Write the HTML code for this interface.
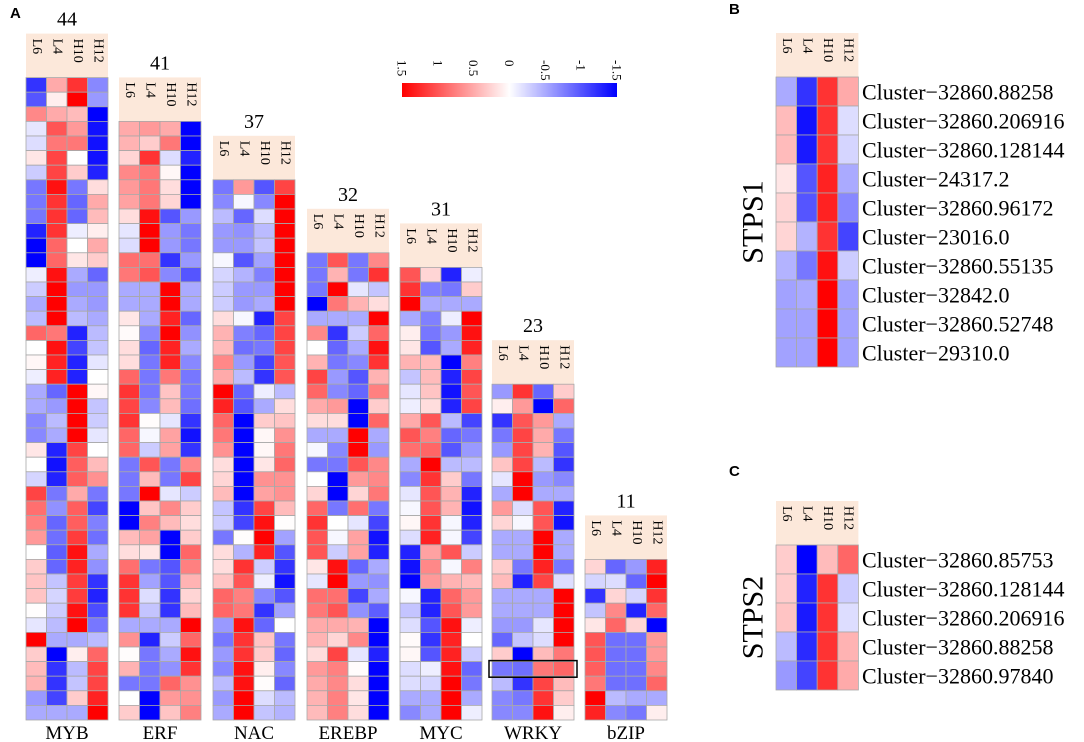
<!DOCTYPE html>
<html><head><meta charset="utf-8"><style>
html,body{margin:0;padding:0;background:#fff;}
svg{display:block;font-family:"Liberation Serif",serif;}
.pl{font-family:"Liberation Sans",sans-serif;font-weight:bold;font-size:15px;}
</style></head><body>
<svg id="chart" width="1084" height="742" viewBox="0 0 1084 742" xmlns="http://www.w3.org/2000/svg">
<text class="pl" x="10" y="18">A</text>
<text class="pl" x="729" y="14">B</text>
<text class="pl" x="729" y="476">C</text>
<defs><linearGradient id="cb" x1="0" x2="1" y1="0" y2="0"><stop offset="0" stop-color="#ff0000"/><stop offset="0.5" stop-color="#ffffff"/><stop offset="1" stop-color="#0000ff"/></linearGradient></defs>
<rect x="402" y="83" width="215" height="14" fill="url(#cb)"/>
<g id="g"></g>
</svg>
<script>
const samples=["L6","L4","H10","H12"];
const families=["MYB","ERF","NAC","EREBP","MYC","WRKY","bZIP"];
const familyCounts=[44,41,37,32,31,23,11];
const scaleTicks=[1.5,1,0.5,0,-0.5,-1,-1.5];
const myb=[[-1.2,0.5,1.2,-0.7],[-1.0,0.1,1.5,-0.6],[0.7,0.5,0.4,-1.5],[-0.15,1.0,0.6,-1.4],[-0.2,0.8,0.8,-1.4],[0.15,1.1,0,-1.4],[-0.3,1.1,0.3,-1.3],[-0.8,1.4,-0.8,0.2],[-0.8,1.2,-0.9,0.5],[-0.8,1.2,-0.9,0.4],[-1.3,1.2,-0.1,0.1],[-1.5,0.9,0,0.5],[-1.5,0.9,0.15,0.3],[-0.1,1.4,-0.5,-0.9],[-0.3,1.5,-0.6,-0.6],[-0.5,1.5,-0.5,-0.6],[-0.4,1.5,-0.4,-0.5],[0.9,0.8,-1.3,-0.4],[0,1.4,-1.1,-0.35],[0.05,1.3,-1.3,-0.15],[-0.1,1.3,-1.3,0],[-0.5,-0.9,1.5,0.05],[-0.5,-0.6,1.5,-0.35],[-0.7,-0.4,1.5,-0.3],[-0.7,-0.5,1.5,-0.15],[0.15,-1.3,1.1,0],[0,-1.4,0.95,0.4],[-0.25,-1.3,0.95,0.65],[1.1,-0.8,0.5,-0.8],[0.85,-0.65,0.95,-1.1],[0.75,-0.9,0.95,-0.75],[0.6,-0.85,1.15,-0.85],[0,-0.95,1.4,-0.5],[0.3,-0.9,1.3,-0.65],[0.35,-0.35,1.15,-1.2],[0.35,-0.25,1.15,-1.3],[0.01,-0.3,1.4,-1.05],[-0.15,-0.4,1.5,-0.8],[1.5,-0.5,-0.5,-0.4],[0.3,-1.5,0.1,0.9],[0.4,-1.2,-0.4,1.1],[0.45,-1.2,-0.35,1.1],[-0.6,-1.1,0.3,1.3],[-0.5,-0.5,-0.5,1.5]];
const erf=[[0.5,0.6,0.5,-1.5],[0.45,0.3,0.8,-1.5],[0.25,1.2,-0.2,-1.3],[0.7,0.8,0.05,-1.5],[0.6,0.8,0.2,-1.5],[0.55,0.8,0.25,-1.5],[0.2,1.4,-1.0,-0.6],[-0.15,1.5,-0.6,-0.8],[-0.2,1.5,-0.6,-0.8],[0.85,0.85,-1.2,-0.6],[0.8,1.0,-0.7,-1.0],[-0.5,-0.5,1.5,-0.5],[-0.5,-0.5,1.5,-0.5],[0.15,-0.5,1.3,-0.9],[0.03,-0.7,1.5,-0.65],[0.2,-0.9,1.3,-0.5],[0.2,-0.8,1.3,-0.7],[0.9,-0.8,0.8,-0.8],[1.2,-0.8,0.35,-0.8],[1.1,-0.7,0.4,-0.85],[1.2,0.02,-0.15,-1.2],[0.9,-0.05,0.55,-1.4],[0.9,-0.3,0.55,-1.2],[-0.8,1.0,-0.8,0.7],[-0.8,0.4,-0.8,1.1],[-0.8,1.5,-0.15,-0.3],[-1.5,0.35,0.7,0.3],[-1.5,0.75,0.4,0.2],[0.4,0.55,-1.5,0.3],[0.2,0.15,-1.5,0.9],[0.85,-0.8,-1.0,0.75],[1.2,-0.55,-1.0,0.45],[1.2,-0.2,-1.2,0.25],[1.2,-0.35,-1.2,0.4],[-0.5,-0.5,-0.5,1.5],[0.65,-1.3,-0.3,0.9],[0.02,-0.8,-0.5,1.4],[0.45,-0.8,-0.65,1.2],[-0.8,-0.8,0.9,0.65],[0,-1.5,0.6,0.65],[0.3,-1.5,0.35,0.75]];
const nac=[[-0.8,0.6,-1.0,1.1],[-0.7,-0.05,-0.7,1.5],[-0.4,-0.9,-0.2,1.5],[-0.6,-0.65,-0.4,1.5],[-0.6,-0.6,-0.35,1.5],[-0.05,-1.0,-0.55,1.5],[-0.25,-0.45,-0.75,1.5],[-0.3,-0.6,-0.6,1.5],[-0.3,-0.6,-0.5,1.5],[0.2,-0.05,-1.3,1.1],[0.45,-0.75,-0.9,1.1],[0.4,-0.85,-0.8,1.1],[0.7,-0.6,-1.1,1.0],[0.5,-0.4,-1.2,1.0],[1.5,-0.9,-0.1,-0.4],[1.3,-1.0,-0.5,0.2],[0.9,-1.5,0.3,0.35],[0.8,-1.5,0.05,0.65],[0.65,-1.5,0.05,0.8],[0.2,-1.5,0.15,0.9],[0.25,-1.5,0.65,0.65],[0.4,-1.5,0.55,0.65],[-0.35,-1.2,1.1,0.4],[-0.3,-1.1,1.4,0.01],[-0.8,0.01,1.5,-0.55],[0.2,-0.45,1.3,-1.0],[0.2,1.2,-0.3,-1.2],[0.35,1.0,-0.1,-1.4],[0.9,0.75,-0.7,-1.0],[0.9,0.8,-1.2,-0.55],[-0.6,1.4,-0.9,0],[-0.8,1.2,0.35,-0.8],[-0.6,1.2,0.3,-0.9],[-0.7,1.4,0.1,-0.7],[-0.4,1.4,0.02,-0.9],[-0.6,1.5,-0.2,-0.4],[-0.5,1.5,-0.35,-0.45]];
const erebp=[[-0.8,1.0,-0.8,0.7],[-0.8,0.45,-0.8,1.2],[-0.8,1.5,-0.15,-0.35],[-1.5,0.8,0.45,0.2],[-0.5,-0.5,-0.5,1.5],[0.7,-1.2,-0.3,0.9],[0,-0.9,-0.5,1.4],[0.45,-0.8,-0.7,1.2],[1.1,-0.6,-1.0,0.45],[0.9,-0.7,-0.9,0.75],[0.5,0.6,-1.5,0.3],[0.2,0.2,-1.5,0.9],[-0.5,-0.5,1.5,-0.5],[-0.05,-0.7,1.5,-0.6],[-0.8,-0.8,1.0,0.7],[0,-1.5,0.6,0.7],[0.25,-1.5,0.25,0.8],[0.9,-0.8,0.85,-0.8],[1.2,0,-0.15,-1.1],[1.0,-0.05,0.55,-1.4],[1.0,-0.3,0.55,-1.3],[0.15,1.4,-0.9,-0.5],[-0.15,1.5,-0.6,-0.65],[0.85,0.85,-1.1,-0.5],[0.8,1.0,-0.65,-0.95],[0.5,0.5,0.45,-1.5],[0.45,0.25,0.7,-1.5],[0.2,1.1,-0.15,-1.3],[0.6,0.75,0.02,-1.5],[0.5,0.7,0.2,-1.5],[0.45,0.75,0.15,-1.5],[0.4,0.75,0.2,-1.5]];
const myc=[[1.0,0.25,-1.3,-0.1],[1.2,-0.75,-0.8,0.3],[1.5,-0.5,-0.5,-0.5],[-0.5,-0.75,-0.1,1.5],[0.1,-0.8,-0.6,1.4],[0.15,-1.0,-0.5,1.3],[0.45,0.4,-1.5,0.75],[-0.35,0.4,-1.3,1.1],[-0.15,0.35,-1.4,1.0],[-0.1,0.2,-1.3,1.1],[0.5,1.0,-0.4,-1.1],[1.0,0.75,-0.9,-0.8],[0.85,0.9,-1.0,-0.6],[-0.5,1.5,-0.4,-0.4],[-0.7,1.2,0.3,-0.8],[-0.15,1.0,0.45,-1.3],[-0.05,1.0,0.45,-1.4],[0.05,1.2,-0.05,-1.3],[-0.2,1.3,-0.05,-1.1],[-1.3,0.55,1.0,-0.3],[-1.4,0.7,-0.05,0.75],[-1.5,0.6,0.45,0.4],[-0.05,-1.3,0.9,0.6],[-0.35,-1.3,1.0,0.6],[-0.2,-1.0,1.4,-0.1],[0.03,-1.2,1.3,0],[0.05,-1.0,1.3,-0.3],[-0.2,-0.1,1.4,-0.9],[-0.2,-0.25,1.5,-0.8],[-0.5,-0.5,1.5,-0.5],[-0.7,-0.5,1.5,-0.1]];
const wrky=[[-0.6,1.2,-0.9,0.3],[0.1,0.6,-1.5,0.9],[-1.2,1.0,0.6,-0.5],[-0.8,1.1,0.5,-0.8],[-0.6,1.1,0.45,-1.0],[0.35,1.1,-0.4,-1.2],[-0.15,1.5,-0.6,-0.7],[-0.5,1.5,-0.5,-0.5],[0.6,-0.2,1.0,-1.3],[0.25,-0.05,1.0,-1.4],[-0.5,-0.5,1.5,-0.5],[-0.5,-0.5,1.5,-0.5],[0.3,-0.8,1.3,-0.8],[0.4,-1.3,1.1,-0.2],[-0.5,-0.5,-0.5,1.5],[-0.5,-0.5,-0.5,1.5],[-0.6,-0.6,-0.15,1.5],[-0.9,-0.35,-0.2,1.5],[0.3,-1.5,0.4,0.8],[-0.8,-0.85,0.8,0.9],[-0.4,-1.2,1.1,0.4],[-0.7,-0.8,1.2,0.3],[-0.7,-0.7,1.4,0.1]];
const bzip=[[0.25,-0.9,-0.6,1.3],[-0.25,-0.2,-0.9,1.5],[-1.2,0.25,-0.25,1.2],[-0.35,0.7,-1.3,0.9],[0.15,0.9,0.25,-1.5],[1.0,-0.85,-0.85,0.6],[1.0,-0.85,-0.85,0.6],[0.95,-0.85,-0.85,0.7],[0.8,-0.85,-0.85,0.9],[1.5,-0.4,-0.5,-0.5],[1.3,-0.7,-0.8,0.1]];
const stps1Genes=["Cluster\u221232860.88258","Cluster\u221232860.206916","Cluster\u221232860.128144","Cluster\u221224317.2","Cluster\u221232860.96172","Cluster\u221223016.0","Cluster\u221232860.55135","Cluster\u221232842.0","Cluster\u221232860.52748","Cluster\u221229310.0"];
const stps1=[[-0.5,-1.2,1.2,0.5],[0.4,-1.4,1.2,-0.2],[0.4,-1.35,1.2,-0.25],[0.15,-1.0,1.3,-0.5],[0.25,-1.0,1.3,-0.7],[0.25,-0.45,1.2,-1.1],[-0.45,-0.8,1.4,-0.3],[-0.55,-0.5,1.5,-0.55],[-0.55,-0.55,1.5,-0.55],[-0.55,-0.55,1.5,-0.55]];
const stps2Genes=["Cluster\u221232860.85753","Cluster\u221232860.128144","Cluster\u221232860.206916","Cluster\u221232860.88258","Cluster\u221232860.97840"];
const stps2=[[0.3,-1.5,0.4,0.9],[0.3,-1.3,1.2,-0.3],[0.35,-1.35,1.2,-0.2],[-0.4,-1.25,1.2,0.45],[-0.6,-1.1,1.2,0.5]];
const highlightRow=19;

const NS="http://www.w3.org/2000/svg";
const G=document.getElementById('g');
function mk(t,a,p){const e=document.createElementNS(NS,t);for(const k in a)e.setAttribute(k,a[k]);(p||G).appendChild(e);return e;}
function color(v){let t=Math.max(-1,Math.min(1,v/1.5));if(t>=0){const c=Math.round(255*(1-t));return `rgb(255,${c},${c})`;}const c=Math.round(255*(1+t));return `rgb(${c},${c},255)`;}
function scaleX(v){return 402+(1.5-v)/3*215;}
scaleTicks.forEach(v=>{const x=scaleX(v);const t=mk('text',{x:x,y:60,'font-size':13,transform:`rotate(90 ${x} 60)`,'dominant-baseline':'central'});t.textContent=String(v);

});
function header(x0,top,cw,name){const h=mk('rect',{x:x0,y:top-44,width:cw*4,height:44,fill:'#fce8da'});


samples.forEach((s,j)=>{const x=x0+cw*j+cw/2,y=top-39;const t=mk('text',{x:x,y:y,'font-size':14,transform:`rotate(90 ${x} ${y})`,'dominant-baseline':'central'});t.textContent=s;

});}
function cells(data,x0,top,cw,rh,name){data.forEach((row,i)=>row.forEach((v,j)=>{const r=mk('rect',{x:x0+j*cw,y:top+i*rh,width:cw,height:rh,fill:color(v),stroke:'#a8a8a8','stroke-width':0.8});

}));}
const panels=[myb,erf,nac,erebp,myc,wrky,bzip];
const CW=20.5,RH=14.6,BOTTOM=720;
const xStarts=[26,119,213,307,400,492,585];
panels.forEach((d,k)=>{const x0=xStarts[k],top=BOTTOM-d.length*RH,nm=families[k].toLowerCase();
header(x0,top,CW,nm);cells(d,x0,top,CW,RH,nm);
const t=mk('text',{x:x0+CW*2,y:top-52,'font-size':20,'text-anchor':'middle'});t.textContent=String(familyCounts[k]);


const l=mk('text',{x:x0+CW*2,y:739,'font-size':19,'text-anchor':'middle'});l.textContent=families[k];

});
(function(){const top=BOTTOM-wrky.length*RH;const r=mk('rect',{x:xStarts[5]-3,y:top+highlightRow*RH-1,width:CW*4+6,height:RH+2,fill:'none',stroke:'#000','stroke-width':1.5});

})();
function side(data,genes,top,title,nm){const x0=776,cw=20.6,rh=29;header(x0,top,cw,nm);cells(data,x0,top,cw,rh,nm);
genes.forEach((g,i)=>{const t=mk('text',{x:862,y:top+i*rh+rh/2+8,'font-size':22});t.textContent=g;

});
const cy=top+data.length*rh/2;const t=mk('text',{x:753,y:cy,'font-size':30,'text-anchor':'middle','dominant-baseline':'central',transform:`rotate(-90 753 ${cy})`});t.textContent=title;

}
side(stps1,stps1Genes,77,'STPS1','stps1');
side(stps2,stps2Genes,545,'STPS2','stps2');
</script>
</body></html>
